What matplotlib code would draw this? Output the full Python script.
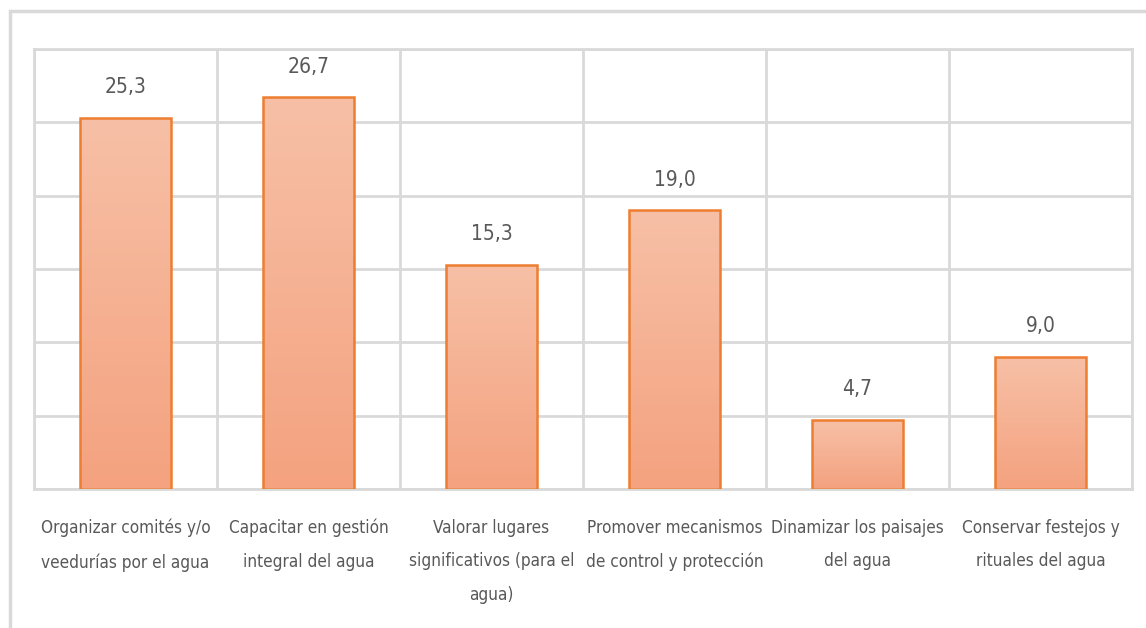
import matplotlib.pyplot as plt
import numpy as np
from matplotlib.colors import LinearSegmentedColormap
from matplotlib.patches import Rectangle
from matplotlib import font_manager

# Data
categories = ['Organizar comités y/o\nveedurías por el agua',
              'Capacitar en gestión\nintegral del agua',
              'Valorar lugares\nsignificativos (para el\nagua)',
              'Promover mecanismos\nde control y protección',
              'Dinamizar los paisajes\ndel agua',
              'Conservar festejos y\nrituales del agua']
values = [25.3, 26.7, 15.3, 19.0, 4.7, 9.0]

# look for a narrow face (Calibri-like look in the original)
narrow = None
for f in font_manager.fontManager.ttflist:
    if ('Narrow' in f.name or 'Condensed' in f.name or f.stretch in ('condensed', 'semi-condensed')) \
            and f.weight in (400, 'normal', 'regular') and f.style == 'normal':
        narrow = f
        break
if narrow is not None:
    family, stretch = narrow.name, narrow.stretch
else:
    family, stretch = 'Lato', 'normal'
plt.rcParams['font.family'] = [family, 'DejaVu Sans']
plt.rcParams['font.stretch'] = stretch

text_color = '#595959'
grid_color = '#D9D9D9'

fig = plt.figure(figsize=(11.46, 6.28), dpi=100)
ax = fig.add_axes([34 / 1146, 1 - 489 / 628, 1098 / 1146, 440 / 628])

# outer chart border (cropped on right/bottom)
fig.patches.append(Rectangle((10 / 1146, -0.1), 1.2, 0.1 + 1 - 11 / 628,
                             transform=fig.transFigure, fill=False,
                             edgecolor=grid_color, linewidth=2.5))

x = np.arange(len(categories))
bars = ax.bar(x, values, width=0.5, facecolor='none', edgecolor='#ED7D31',
              linewidth=1.8, zorder=3)

cmap = LinearSegmentedColormap.from_list('peach', ['#F4A27F', '#F7C0A6'])
grad = np.linspace(0, 1, 256).reshape(-1, 1)
for b in bars:
    bx, bw, bh = b.get_x(), b.get_width(), b.get_height()
    im = ax.imshow(grad, cmap=cmap, aspect='auto', origin='lower',
                   extent=(bx, bx + bw, 0, bh), zorder=2)
    im.set_clip_path(b)

for xi, v in zip(x, values):
    ax.annotate(f'{v:.1f}'.replace('.', ','), xy=(xi, v), xytext=(0, 15),
                textcoords='offset points', ha='center', va='bottom',
                fontsize=15, color=text_color)

ax.set_xlim(-0.5, len(categories) - 0.5)
ax.set_ylim(0, 30)
ax.set_yticks(np.arange(0, 31, 5))
ax.set_yticklabels([])
ax.set_xticks(x)
ax.set_xticklabels(categories, fontsize=12.3, color=text_color, linespacing=2.1)
ax.set_xticks(np.arange(-0.5, len(categories)), minor=True)
ax.tick_params(axis='both', length=0)
ax.tick_params(axis='x', which='minor', length=0)
ax.tick_params(axis='x', pad=21.5)
ax.grid(axis='y', color=grid_color, linewidth=2, zorder=0)
ax.grid(axis='x', which='minor', color=grid_color, linewidth=2, zorder=0)
ax.grid(axis='x', which='major', visible=False)
for s in ax.spines.values():
    s.set_color(grid_color)
    s.set_linewidth(2)
ax.set_axisbelow(True)

plt.savefig('out.png', dpi=100)
